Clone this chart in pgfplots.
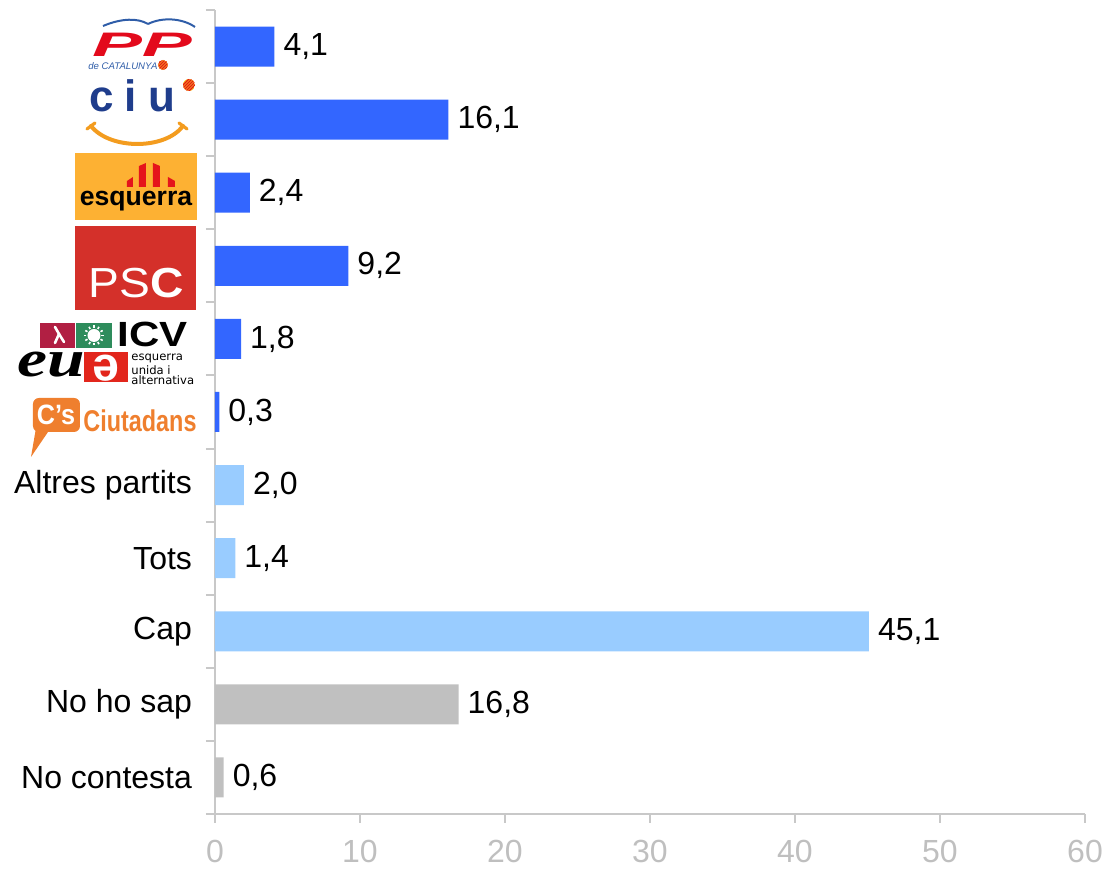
\documentclass[border=0pt]{standalone}
\usepackage{fontspec}
\setmainfont{Liberation Sans}
\newfontfamily\serifbi{Liberation Serif}
\newfontfamily\dejavu{DejaVu Sans}
\usepackage{graphicx}
\usepackage{pgfplots}
\pgfplotsset{compat=1.18}
\pgfplotsset{/pgf/number format/assume math mode=true}

\definecolor{barblue}{HTML}{3366FF}
\definecolor{barlight}{HTML}{99CCFF}
\definecolor{bargray}{HTML}{C0C0C0}
\definecolor{axisgray}{HTML}{C8C8C8}
\definecolor{ticktext}{HTML}{BFBFBF}
\definecolor{ppred}{HTML}{E30A1C}
\definecolor{ppblue}{HTML}{2F5DA8}
\definecolor{ciublue}{HTML}{1F3D8C}
\definecolor{ciuorange}{HTML}{F39C1F}
\definecolor{ercorange}{HTML}{FDB133}
\definecolor{ercred}{HTML}{E5141B}
\definecolor{pscred}{HTML}{D4302A}
\definecolor{icvred}{HTML}{B11F43}
\definecolor{icvgreen}{HTML}{2E8C5C}
\definecolor{euiared}{HTML}{E2261C}
\definecolor{csorange}{HTML}{EF7F2E}
\definecolor{catyellow}{HTML}{F7C21A}

\newcommand\catdot[3]{% x, y, r (px)
  \begin{scope}[shift={(#1,#2)}]
    \clip (0,0) circle (#3);
    \fill[catyellow] (-#3,-#3) rectangle (#3,#3);
    \foreach \k in {-6,-3,0,3,6}
      \draw[ercred, line width=0.6pt] (\k-8,8) -- (\k+8,-8);
  \end{scope}}

\begin{document}
\begin{tikzpicture}
\begin{axis}[
  at={(0,0)}, anchor=south west,
  scale only axis, width=435pt, height=402pt,
  xbar, bar width=20pt,
  xmin=0, xmax=60, ymin=-0.5, ymax=10.5,
  axis lines*=left,
  axis line style={axisgray, line width=1pt},
  tick align=outside,
  major tick length=4.5pt,
  every tick/.style={axisgray, line width=1pt},
  xtick={0,10,...,60},
  xticklabel style={text=ticktext, font=\fontsize{16}{19}\selectfont, inner sep=0.8pt, yshift=-7.5pt},
  ytick={-0.5,0.5,...,10.5},
  yticklabels={},
  extra y ticks={0,1,2,3,4},
  extra y tick labels={No contesta,No ho sap,Cap,Tots,Altres partits},
  extra y tick style={major tick length=0pt,
    yticklabel style={font=\fontsize{16}{19}\selectfont, text=black, xshift=-8pt}},
  point meta=x,
  nodes near coords={\pgfmathprintnumber[fixed,fixed zerofill,precision=1,use comma]{\pgfplotspointmeta}},
  every node near coord/.append style={anchor=west, font=\fontsize{16}{19}\selectfont, text=black, xshift=1pt},
  clip=false,
]
% parties
\addplot[fill=barblue, draw=none, bar shift=0pt] coordinates {
  (4.1,10) (16.1,9) (2.4,8) (9.2,7) (1.8,6) (0.3,5)};
% altres, tots, cap
\addplot[fill=barlight, draw=none, bar shift=0pt] coordinates {
  (2.0,4) (1.4,3) (45.1,2)};
% no ho sap, no contesta
\addplot[fill=bargray, draw=none, bar shift=0pt] coordinates {
  (16.8,1) (0.6,0)};
\end{axis}

% party logos, in pixel units of the reference
\begin{scope}[x=0.5pt, y=-0.5pt, shift={(-107.5pt,407pt)}]
  % PP
  \draw[ppblue, line width=1pt] (103,26) .. controls (122,18) and (138,18) .. (148,24);
  \draw[ppblue, line width=1pt] (148,24) .. controls (162,17) and (182,18) .. (195,27);
  \node[text=ppred, inner sep=0, anchor=base] at (142,57)
    {\fontsize{17}{17}\selectfont\bfseries\itshape\scalebox{2.2}[1]{PP}};
  \node[text=ppblue, inner sep=0, anchor=base west] at (88,70)
    {\fontsize{4.8}{5}\selectfont\itshape de CATALUNYA};
  \catdot{163}{65}{5}
  % CiU
  \node[text=ciublue, inner sep=0, anchor=base] at (102,112) {\fontsize{22}{22}\selectfont\bfseries c};
  \node[text=ciublue, inner sep=0, anchor=base] at (131,112) {\fontsize{22}{22}\selectfont\bfseries i};
  \node[text=ciublue, inner sep=0, anchor=base] at (162,112) {\fontsize{22}{22}\selectfont\bfseries u};
  \draw[ciuorange, line width=2pt, line cap=round] (91,126) .. controls (110,150) and (165,150) .. (183,126);
  \draw[ciuorange, line width=1.6pt, line cap=round] (87,129) -- (95,123);
  \draw[ciuorange, line width=1.6pt, line cap=round] (179,123) -- (187,129);
  \catdot{189}{85}{6}
  % ERC
  \fill[ercorange] (75,153) rectangle (197,220);
  \fill[ercred] (127,187) -- (127,181) -- (133,177) -- (133,187) -- cycle;
  \fill[ercred] (139,187) -- (139,166) -- (146,163) -- (146,187) -- cycle;
  \fill[ercred] (153,187) -- (153,163) -- (160,166) -- (160,187) -- cycle;
  \fill[ercred] (168,187) -- (168,177) -- (175,181) -- (175,187) -- cycle;
  \node[text=black, inner sep=0, anchor=base] at (136,206) {\fontsize{13.3}{14}\selectfont\bfseries esquerra};
  % PSC
  \fill[pscred] (75,226) rectangle (196,310);
  \node[text=white, inner sep=0, anchor=base] at (136,298)
    {\fontsize{21}{21}\selectfont\scalebox{1.1}[1]{PS\textbf{C}}};
  % ICV - EUiA
  \fill[icvred] (40,323) rectangle (75,348);
  \fill[icvgreen] (76,323) rectangle (112,348);
  \draw[white, line width=1.3pt, line cap=round] (55,327) -- (59,334) -- (55,343);
  \draw[white, line width=1.3pt, line cap=round] (59,334) -- (64,342);
  \fill[white] (94,335.5) circle (6.5);
  \foreach \a in {0,30,...,330}
    \draw[white, line width=0.8pt] (94,335.5) ++(\a:7.5) -- ++(\a:2.5);
  \node[text=black, inner sep=0, anchor=base] at (153,347)
    {\fontsize{17.5}{18}\selectfont\bfseries\scalebox{1.2}[1]{ICV}};
  \node[text=black, inner sep=0, anchor=base] at (51,377)
    {\fontsize{26}{26}\selectfont\serifbi\bfseries\itshape\scalebox{1.3}[1]{eu}};
  \fill[euiared] (84,352) rectangle (128,382);
  \node[text=white, inner sep=0] at (106,368)
    {\fontsize{24}{24}\selectfont\bfseries\rotatebox{180}{e}};
  \node[text=black, inner sep=0, anchor=north west, align=left,
        font=\dejavu\fontsize{5.8}{5.4}\selectfont] at (131,354)
    {esquerra\\unida i\\alternativa};
  % C's
  \fill[csorange, rounded corners=3pt] (33,398) rectangle (80,432);
  \fill[csorange] (36,428) -- (48,432) -- (31,457) -- cycle;
  \node[text=white, inner sep=0] at (56,415)
    {\fontsize{14}{14}\selectfont\bfseries\scalebox{0.9}[1]{C's}};
  \node[text=csorange, inner sep=0, anchor=base west] at (83,432)
    {\fontsize{15}{15}\selectfont\bfseries\scalebox{0.78}[1]{Ciutadans}};
\end{scope}

\pgfresetboundingbox
\path[use as bounding box] (-107.5pt,-28pt) rectangle (445.5pt,407pt);
\end{tikzpicture}
\end{document}
